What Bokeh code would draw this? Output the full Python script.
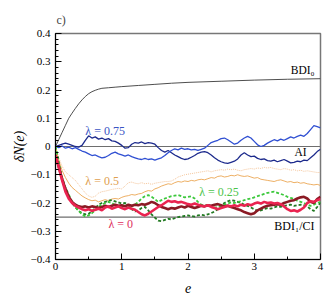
from bokeh.plotting import figure
from bokeh.models import FixedTicker, CustomJSTickFormatter, Label, Range1d
from bokeh.embed import file_html
from bokeh.resources import INLINE

# ---------------- data ----------------
E = [round(i * 0.05, 2) for i in range(81)]

bdi0_e = [0.0, 0.05, 0.1, 0.15, 0.2, 0.25, 0.3, 0.35, 0.4, 0.45, 0.5, 0.55, 0.6, 0.65, 0.7,
          0.8, 0.9, 1.0, 1.25, 1.5, 1.75, 2.0, 2.5, 3.0, 3.5, 4.0]
bdi0_v = [0.0, 0.025, 0.05, 0.075, 0.1, 0.118, 0.135, 0.151, 0.165, 0.177, 0.187, 0.194, 0.199, 0.203, 0.206,
          0.208, 0.210, 0.212, 0.216, 0.220, 0.224, 0.227, 0.231, 0.235, 0.238, 0.240]

ai_level = 0.0
bdi1_level = -0.25

blue_dark = [0.000, 0.004, 0.008, 0.012, 0.008, 0.004, 0.000, -0.002, 0.004, 0.022,
             0.038, 0.030, 0.034, 0.026, 0.030, 0.024, 0.028, 0.020, 0.018, 0.012,
             0.004, -0.006, -0.004, 0.008, 0.014, 0.012, 0.016, 0.010, 0.014, 0.012,
             0.008, -0.004, -0.014, -0.020, -0.014, -0.022, -0.030, -0.036, -0.042, -0.046,
             -0.044, -0.038, -0.032, -0.024, -0.020, -0.018, -0.022, -0.030, -0.040, -0.048,
             -0.054, -0.058, -0.060, -0.056, -0.052, -0.044, -0.030, -0.022, -0.030, -0.036,
             -0.034, -0.042, -0.046, -0.044, -0.050, -0.052, -0.048, -0.054, -0.050, -0.046,
             -0.052, -0.058, -0.056, -0.052, -0.054, -0.048, -0.050, -0.040, -0.030, -0.018,
             -0.010]
blue_light = [0.000, -0.004, 0.002, -0.006, -0.002, -0.008, -0.004, -0.010, -0.016, -0.020,
              -0.026, -0.032, -0.030, -0.036, -0.040, -0.038, -0.032, -0.024, -0.020, -0.026,
              -0.030, -0.034, -0.030, -0.036, -0.040, -0.044, -0.046, -0.042, -0.046, -0.044,
              -0.048, -0.044, -0.040, -0.032, -0.022, -0.014, -0.008, -0.012, -0.006, -0.010,
              -0.008, -0.012, -0.010, -0.014, -0.010, -0.006, 0.004, 0.014, 0.018, 0.022,
              0.028, 0.030, 0.024, 0.016, 0.008, 0.012, 0.022, 0.030, 0.036, 0.030,
              0.018, 0.006, 0.000, 0.004, 0.012, 0.018, 0.024, 0.020, 0.026, 0.022,
              0.028, 0.034, 0.030, 0.036, 0.040, 0.036, 0.046, 0.060, 0.074, 0.070,
              0.066]
orange_dark = [0.000, -0.050, -0.085, -0.110, -0.130, -0.145, -0.155, -0.165, -0.175, -0.182,
               -0.188, -0.192, -0.190, -0.196, -0.192, -0.188, -0.192, -0.186, -0.184, -0.186,
               -0.180, -0.176, -0.174, -0.170, -0.172, -0.168, -0.166, -0.160, -0.156, -0.158,
               -0.150, -0.146, -0.140, -0.136, -0.132, -0.134, -0.128, -0.124, -0.126, -0.122,
               -0.124, -0.120, -0.122, -0.118, -0.116, -0.118, -0.114, -0.110, -0.112, -0.106,
               -0.104, -0.108, -0.106, -0.102, -0.104, -0.100, -0.104, -0.106, -0.104, -0.108,
               -0.112, -0.110, -0.116, -0.118, -0.120, -0.122, -0.124, -0.120, -0.118, -0.122,
               -0.126, -0.124, -0.128, -0.126, -0.130, -0.128, -0.132, -0.134, -0.136, -0.134,
               -0.138]
orange_light = [0.000, -0.040, -0.070, -0.090, -0.100, -0.110, -0.120, -0.135, -0.150, -0.165,
                -0.175, -0.180, -0.176, -0.165, -0.160, -0.158, -0.155, -0.152, -0.150, -0.148,
                -0.150, -0.140, -0.128, -0.126, -0.130, -0.132, -0.128, -0.132, -0.130, -0.134,
                -0.130, -0.128, -0.126, -0.124, -0.124, -0.122, -0.116, -0.108, -0.104, -0.100,
                -0.098, -0.096, -0.094, -0.092, -0.090, -0.088, -0.086, -0.090, -0.086, -0.084,
                -0.082, -0.084, -0.080, -0.082, -0.080, -0.084, -0.086, -0.082, -0.080, -0.078,
                -0.080, -0.076, -0.078, -0.074, -0.076, -0.074, -0.078, -0.080, -0.082, -0.078,
                -0.080, -0.084, -0.082, -0.086, -0.084, -0.088, -0.086, -0.088, -0.090, -0.092,
                -0.092]
green_light = [0.000, -0.060, -0.110, -0.145, -0.170, -0.195, -0.215, -0.228, -0.240, -0.248,
               -0.244, -0.236, -0.226, -0.214, -0.206, -0.200, -0.196, -0.200, -0.208, -0.214,
               -0.212, -0.206, -0.210, -0.212, -0.206, -0.196, -0.184, -0.176, -0.172, -0.178,
               -0.186, -0.196, -0.190, -0.184, -0.180, -0.176, -0.174, -0.172, -0.176, -0.180,
               -0.178, -0.176, -0.184, -0.196, -0.206, -0.210, -0.206, -0.212, -0.216, -0.214,
               -0.210, -0.206, -0.202, -0.198, -0.200, -0.196, -0.194, -0.190, -0.186, -0.184,
               -0.180, -0.176, -0.172, -0.168, -0.164, -0.162, -0.160, -0.164, -0.168, -0.172,
               -0.178, -0.182, -0.186, -0.192, -0.196, -0.200, -0.206, -0.210, -0.206, -0.200,
               -0.196]
green_dark = [0.000, -0.060, -0.115, -0.155, -0.180, -0.200, -0.215, -0.228, -0.236, -0.240,
              -0.238, -0.230, -0.218, -0.206, -0.200, -0.196, -0.192, -0.190, -0.194, -0.198,
              -0.202, -0.200, -0.210, -0.222, -0.230, -0.226, -0.218, -0.214, -0.226, -0.240,
              -0.252, -0.262, -0.264, -0.260, -0.256, -0.258, -0.254, -0.250, -0.248, -0.246,
              -0.244, -0.246, -0.248, -0.244, -0.242, -0.244, -0.240, -0.236, -0.230, -0.222,
              -0.210, -0.200, -0.194, -0.190, -0.192, -0.196, -0.200, -0.206, -0.210, -0.216,
              -0.222, -0.228, -0.226, -0.222, -0.218, -0.220, -0.216, -0.212, -0.214, -0.210,
              -0.208, -0.206, -0.210, -0.208, -0.206, -0.208, -0.212, -0.222, -0.228, -0.214,
              -0.198]
red = [-0.030, -0.075, -0.120, -0.160, -0.185, -0.200, -0.210, -0.216, -0.222, -0.226,
       -0.222, -0.228, -0.224, -0.220, -0.226, -0.216, -0.212, -0.220, -0.216, -0.212,
       -0.218, -0.222, -0.216, -0.220, -0.224, -0.232, -0.240, -0.244, -0.238, -0.230,
       -0.222, -0.214, -0.208, -0.200, -0.192, -0.196, -0.194, -0.198, -0.196, -0.200,
       -0.204, -0.206, -0.202, -0.206, -0.210, -0.212, -0.208, -0.214, -0.218, -0.222,
       -0.218, -0.214, -0.210, -0.212, -0.208, -0.212, -0.206, -0.210, -0.204, -0.208,
       -0.202, -0.198, -0.202, -0.196, -0.200, -0.198, -0.202, -0.200, -0.204, -0.212,
       -0.222, -0.228, -0.226, -0.230, -0.224, -0.216, -0.200, -0.194, -0.196, -0.190,
       -0.186]
maroon = [-0.030, -0.072, -0.115, -0.150, -0.178, -0.196, -0.206, -0.212, -0.214, -0.212,
          -0.216, -0.212, -0.214, -0.218, -0.214, -0.210, -0.214, -0.210, -0.206, -0.210,
          -0.208, -0.212, -0.206, -0.210, -0.206, -0.208, -0.204, -0.206, -0.202, -0.196,
          -0.200, -0.208, -0.214, -0.218, -0.222, -0.218, -0.220, -0.216, -0.212, -0.216,
          -0.210, -0.214, -0.218, -0.214, -0.210, -0.212, -0.208, -0.210, -0.206, -0.204,
          -0.208, -0.212, -0.210, -0.214, -0.218, -0.222, -0.226, -0.232, -0.236, -0.240,
          -0.236, -0.226, -0.220, -0.214, -0.210, -0.208, -0.206, -0.204, -0.206, -0.200,
          -0.196, -0.192, -0.190, -0.184, -0.180, -0.178, -0.184, -0.196, -0.200, -0.186,
          -0.178]

y_major = [-0.4, -0.3, -0.2, -0.1, 0.0, 0.1, 0.2, 0.3, 0.4]
y_minor = [round(-0.4 + 0.02 * i, 2) for i in range(41)]
x_major = [0, 1, 2, 3, 4]
x_minor = [0.5, 1.5, 2.5, 3.5]

# ---------------- figure ----------------
SERIF = "Liberation Serif"

p = figure(width=332, height=295, output_backend="svg", toolbar_location=None,
           x_range=Range1d(0, 4), y_range=Range1d(-0.4, 0.4),
           min_border_left=55, min_border_right=12, min_border_top=33, min_border_bottom=34)
p.background_fill_color = "white"
p.border_fill_color = "white"
p.grid.visible = False
p.outline_line_color = "#777777"
p.outline_line_width = 1.5

p.title.text = "c)"
p.title.text_font = SERIF
p.title.text_font_size = "12px"
p.title.text_font_style = "normal"
p.title.align = "left"
p.title.offset = -6
p.title.standoff = 0
try:
    p.title.padding = 7
except Exception:
    pass

for ax in (p.xaxis[0], p.yaxis[0]):
    ax.major_tick_in = 6
    ax.major_tick_out = 0
    ax.minor_tick_in = 3
    ax.minor_tick_out = 0
    ax.axis_line_color = "black"
    ax.major_tick_line_color = "black"
    ax.minor_tick_line_color = "black"
    ax.major_label_text_font = SERIF
    ax.major_label_text_font_size = "11px"
    ax.major_label_text_color = "black"
    ax.axis_label_text_font = SERIF
    ax.axis_label_text_font_style = "italic"
    ax.axis_label_text_font_size = "14px"
    ax.axis_label_text_color = "black"

p.yaxis.ticker = FixedTicker(ticks=y_major, minor_ticks=y_minor)
p.xaxis.ticker = FixedTicker(ticks=x_major, minor_ticks=x_minor)
p.yaxis.formatter = CustomJSTickFormatter(code="""
    if (Math.abs(tick) < 1e-9) { return "0"; }
    const s = Math.abs(tick).toFixed(1);
    return tick < 0 ? "\u2212" + s : s;
""")
p.xaxis.formatter = CustomJSTickFormatter(code="return tick.toFixed(0);")
p.yaxis.major_label_standoff = 5
p.xaxis.major_label_standoff = 3
p.yaxis.axis_label = "\u03b4N(e)"
p.xaxis.axis_label = "e"
p.yaxis.axis_label_standoff = 1
p.xaxis.axis_label_standoff = 10

# reference lines
p.line(bdi0_e, bdi0_v, line_color="#3a3a3a", line_width=0.9)
p.line([0, 4], [ai_level, ai_level], line_color="#6e6e6e", line_width=1.1)
p.line([0, 4], [bdi1_level, bdi1_level], line_color="#6e6e6e", line_width=1.1)

# lambda = 0.75
p.line(E, blue_dark, line_color="#1c2a8c", line_width=1.3)
p.line(E, blue_light, line_color="#2f4fd2", line_width=1.3)
# lambda = 0.5
p.line(E, orange_light, line_color="#f3be8e", line_width=0.9, line_dash="1 1")
p.line(E, orange_dark, line_color="#e89a3c", line_width=0.8)
# lambda = 0.25
p.line(E, green_dark, line_color="#227a22", line_width=1.8, line_dash="3 2")
p.line(E, green_light, line_color="#3cc83c", line_width=1.8, line_dash="3 2")
# lambda = 0
p.line(E, maroon, line_color="#8b1a24", line_width=2.6)
p.line(E, red, line_color="#ea2450", line_width=2.6)

def lab(x, y, text, color="black", align="left", size="12px", style="normal"):
    p.add_layout(Label(x=x, y=y, text=text, text_color=color, text_align=align,
                       text_baseline="middle", text_font=SERIF, text_font_size=size,
                       text_font_style=style))

lab(3.91, 0.27, "BDI\u2080", align="right", size="11.5px")
lab(3.79, -0.021, "AI", align="right", size="11.5px")
lab(3.91, -0.281, "BDI\u2081/CI", align="right")
lab(0.45, 0.056, "\u03bb = 0.75", color="#3a55c4")
lab(0.45, -0.123, "\u03bb = 0.5", color="#e0a050")
lab(2.17, -0.161, "\u03bb = 0.25", color="#4cc44c")
lab(0.80, -0.274, "\u03bb = 0", color="#e0305e")

open("out.html", "w").write(file_html(p, INLINE))
